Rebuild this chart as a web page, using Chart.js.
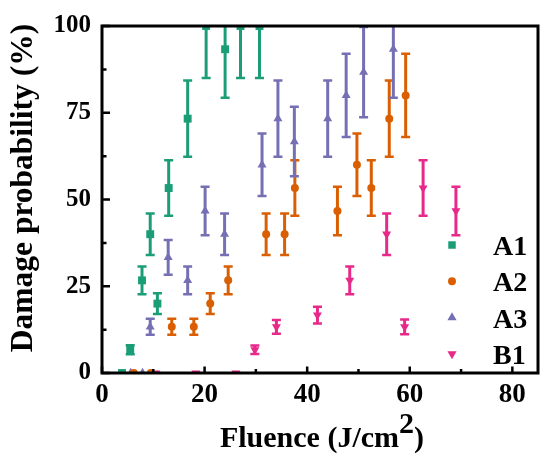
<!DOCTYPE html>
<html>
<head>
<meta charset="utf-8">
<title>Damage probability vs fluence</title>
<script src="https://cdn.jsdelivr.net/npm/chart.js@4.4.1/dist/chart.umd.min.js"></script>
<style>
  html, body { margin: 0; padding: 0; background: #fff; }
</style>
</head>
<body>
<canvas id="damageChart" width="546" height="461"></canvas>
<script>
// ---- data ----
const a1Fluence = [3.9, 5.5, 7.8, 9.4, 10.8, 13.0, 16.7, 20.3, 24.0, 27.0, 30.7];
const a1Prob    = [0, 6.7, 26.7, 40, 20, 53.3, 73.3, 100, 93.3, 100, 100];
const a1Err     = [0, 1.3, 4, 6, 3, 8, 11, 15, 14, 15, 15];

const a2Fluence = [6.2, 9.5, 13.6, 17.9, 21.1, 24.6, 32.0, 35.6, 37.6, 45.9, 49.7, 52.5, 56.0, 59.2];
const a2Prob    = [0, 0, 13.3, 13.3, 20, 26.7, 40, 40, 53.3, 46.7, 60, 53.3, 73.3, 80];
const a2Err     = [0, 0, 2.3, 2.3, 3, 4, 6, 6, 8, 7, 9, 8, 11, 12];

const a3Fluence = [5.6, 7.9, 9.4, 12.9, 16.7, 20.1, 23.9, 31.2, 34.3, 37.5, 44.0, 47.6, 51.0, 56.8];
const a3Prob    = [0, 0, 13.3, 33.3, 26.7, 46.7, 40, 60, 73.3, 66.7, 73.3, 80, 86.7, 93.3];
const a3Err     = [0, 0, 2.3, 5, 4, 7, 6, 9, 11, 10, 11, 12, 13, 14];

const b1Fluence = [10.5, 18.3, 26.1, 29.8, 34.0, 42.0, 48.3, 55.5, 59.0, 62.6, 69.0];
const b1Prob    = [0, 0, 0, 6.7, 13.3, 16.7, 26.7, 40, 13.3, 53.3, 46.7];
const b1Err     = [0, 0, 0, 1.2, 2, 2.4, 4, 6, 2.1, 8, 7];

const seriesNames = ["A1", "A2", "A3", "B1"];
const xTickValues = [0, 20, 40, 60, 80];
const yTickValues = [0, 25, 50, 75, 100];

const xTitle = "Fluence (J/cm";
const xTitleSup = "2";
const yTitle = "Damage probability (%)";

const FONT = '"Liberation Serif", "Times New Roman", serif';

function points(xs, ys, errs) {
  return xs.map((x, i) => ({ x: x, y: ys[i], err: errs[i] }));
}

// error bars, clipped to the plot area like the original
const errorBars = {
  id: "errorBars",
  beforeDatasetsDraw(chart) {
    const { ctx, chartArea: a, scales: { x, y } } = chart;
    ctx.save();
    ctx.beginPath();
    ctx.rect(a.left, a.top, a.width, a.height);
    ctx.clip();
    chart.data.datasets.forEach((ds) => {
      ctx.strokeStyle = ds.borderColor;
      ds.data.forEach((p) => {
        if (!p.err) return;
        const px = x.getPixelForValue(p.x);
        const hi = y.getPixelForValue(p.y + p.err);
        const lo = y.getPixelForValue(p.y - p.err);
        ctx.lineWidth = 3;
        ctx.beginPath();
        ctx.moveTo(px, hi);
        ctx.lineTo(px, lo);
        ctx.stroke();
        ctx.lineWidth = 2.5;
        ctx.beginPath();
        ctx.moveTo(px - 4.5, hi);
        ctx.lineTo(px + 4.5, hi);
        ctx.moveTo(px - 4.5, lo);
        ctx.lineTo(px + 4.5, lo);
        ctx.stroke();
      });
    });
    ctx.restore();
  }
};

// box frame, inward ticks, titles and the in-plot legend
const frameAndLabels = {
  id: "frameAndLabels",
  afterDraw(chart) {
    const { ctx, chartArea: a, scales: { x, y } } = chart;
    ctx.save();

    /* ticks */
    ctx.strokeStyle = "#000";
    ctx.lineWidth = 2.5;
    ctx.beginPath();
    xTickValues.forEach((v, i) => {
      const px = x.getPixelForValue(v);
      ctx.moveTo(px, a.bottom);
      ctx.lineTo(px, a.bottom - 6.5);
      if (i < xTickValues.length - 1) {
        const mx = x.getPixelForValue((v + xTickValues[i + 1]) / 2);
        ctx.moveTo(mx, a.bottom);
        ctx.lineTo(mx, a.bottom - 4);
      }
    });
    yTickValues.forEach((v, i) => {
      const py = y.getPixelForValue(v);
      ctx.moveTo(a.left, py);
      ctx.lineTo(a.left + 8, py);
      if (i < yTickValues.length - 1) {
        const my = y.getPixelForValue((v + yTickValues[i + 1]) / 2);
        ctx.moveTo(a.left, my);
        ctx.lineTo(a.left + 4.5, my);
      }
    });
    ctx.stroke();

    /* frame */
    ctx.lineWidth = 3;
    ctx.strokeRect(a.left, a.top, a.width, a.height);

    /* axis titles */
    ctx.fillStyle = "#000";
    ctx.font = "bold 30px " + FONT;
    ctx.textBaseline = "alphabetic";
    ctx.textAlign = "left";
    const w1 = ctx.measureText(xTitle).width;
    const w2 = ctx.measureText(xTitleSup).width;
    const w3 = ctx.measureText(")").width;
    let tx = (a.left + a.right) / 2 + 2 - (w1 + w2 + w3) / 2;
    ctx.fillText(xTitle, tx, 447);
    ctx.fillText(xTitleSup, tx + w1, 433);
    ctx.fillText(")", tx + w1 + w2, 447);

    ctx.save();
    ctx.font = "bold 31.5px " + FONT;
    ctx.translate(24, 188);
    ctx.rotate(-Math.PI / 2);
    ctx.textAlign = "center";
    ctx.textBaseline = "middle";
    ctx.fillText(yTitle, 0, 0);
    ctx.restore();

    /* legend */
    ctx.font = "bold 28px " + FONT;
    ctx.textAlign = "left";
    ctx.textBaseline = "alphabetic";
    chart.data.datasets.forEach((ds, i) => {
      const cy = a.bottom - 128 + i * 36.3;
      ctx.fillStyle = ds.backgroundColor;
      Chart.helpers.drawPoint(ctx, {
        pointStyle: ds.pointStyle,
        rotation: ds.pointRotation || 0,
        radius: ds.pointStyle === "circle" ? 4 : 5.3,
        borderWidth: 0
      }, a.right - 86, cy);
      ctx.fillStyle = "#000";
      ctx.fillText(ds.label, a.right - 45, cy + 10);
    });

    ctx.restore();
  }
};

function series(label, color, style, radius, data, rotation) {
  return {
    label: label,
    data: data,
    backgroundColor: color,
    borderColor: color,
    pointStyle: style,
    pointRadius: radius,
    pointHoverRadius: radius,
    pointRotation: rotation || 0,
    pointBorderWidth: 0,
    clip: 0
  };
}

new Chart(document.getElementById("damageChart"), {
  type: "scatter",
  data: {
    datasets: [
      series(seriesNames[0], "#1b9e77", "rect", 5.6, points(a1Fluence, a1Prob, a1Err)),
      series(seriesNames[1], "#d95f02", "circle", 4, points(a2Fluence, a2Prob, a2Err)),
      series(seriesNames[2], "#7570b3", "triangle", 5.2, points(a3Fluence, a3Prob, a3Err)),
      series(seriesNames[3], "#e7298a", "triangle", 5.2, points(b1Fluence, b1Prob, b1Err), 180)
    ]
  },
  options: {
    responsive: false,
    animation: false,
    layout: { padding: { left: 0, right: 8, top: 22, bottom: 0 } },
    plugins: {
      legend: { display: false },
      tooltip: { enabled: false }
    },
    scales: {
      x: {
        type: "linear",
        min: 0,
        max: 85,
        grid: { display: false, drawTicks: false },
        border: { display: false },
        afterBuildTicks: (scale) => { scale.ticks = xTickValues.map(v => ({ value: v })); },
        afterFit: (scale) => { scale.height = 88; },
        ticks: {
          padding: 6,
          color: "#000",
          font: { family: FONT, size: 27, weight: "bold" }
        }
      },
      y: {
        min: 0,
        max: 100,
        grid: { display: false, drawTicks: false },
        border: { display: false },
        afterBuildTicks: (scale) => { scale.ticks = yTickValues.map(v => ({ value: v })); },
        afterFit: (scale) => { scale.width = 102; },
        ticks: {
          padding: 11,
          color: "#000",
          font: { family: FONT, size: 25, weight: "bold" }
        }
      }
    }
  },
  plugins: [errorBars, frameAndLabels]
});
</script>
</body>
</html>
